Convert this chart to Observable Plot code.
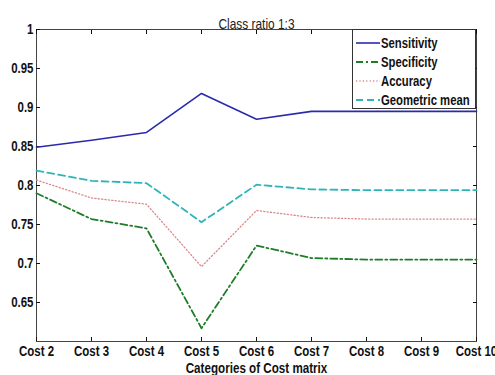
<!DOCTYPE html>
<html>
<head>
<meta charset="utf-8">
<script src="https://cdn.jsdelivr.net/npm/d3@7"></script>
<script src="https://cdn.jsdelivr.net/npm/@observablehq/plot@0.6"></script>
<style>
  html, body { margin: 0; padding: 0; background: #fff; }
  #chart { position: relative; width: 495px; height: 375px; font-family: "Liberation Sans", Arial, sans-serif; }
  #legend { position: absolute; left: 352px; top: 29px; width: 124px; height: 80px; border: 1px solid #333; background: #fff; box-sizing: border-box; font-weight: bold; font-size: 14.5px; color: #111; }
  .row { position: absolute; left: 3px; height: 19px; display: flex; align-items: center; white-space: nowrap; }
  .row svg { width: 24px; height: 10px; margin-right: 1px; flex: none; }
  .row span { display: inline-block; transform: scaleX(0.78); transform-origin: left center; }
</style>
</head>
<body>
<div id="chart"></div>
<script>
const title = "Class ratio 1:3";
const xLabel = "Categories of Cost matrix";
const categories = ["Cost 2", "Cost 3", "Cost 4", "Cost 5", "Cost 6", "Cost 7", "Cost 8", "Cost 9", "Cost 10"];
const sensitivity = [0.849, 0.858, 0.868, 0.918, 0.885, 0.895, 0.895, 0.895, 0.895];
const specificity = [0.790, 0.757, 0.745, 0.617, 0.723, 0.707, 0.705, 0.705, 0.705];
const accuracy    = [0.807, 0.784, 0.776, 0.696, 0.768, 0.759, 0.757, 0.757, 0.757];
const geomMean    = [0.819, 0.806, 0.803, 0.753, 0.801, 0.795, 0.794, 0.794, 0.794];
const seriesNames = ["Sensitivity", "Specificity", "Accuracy", "Geometric mean"];
const yTicks = [0.65, 0.7, 0.75, 0.8, 0.85, 0.9, 0.95, 1];
const yTickLabels = ["0.65", "0.7", "0.75", "0.8", "0.85", "0.9", "0.95", "1"];

const seriesValues = [sensitivity, specificity, accuracy, geomMean];
const styles = [
  {stroke: "#2a2aae", strokeWidth: 1.6, strokeDasharray: null},
  {stroke: "#1f7d2a", strokeWidth: 1.8, strokeDasharray: "7,3,2,3"},
  {stroke: "#d88a8a", strokeWidth: 1.3, strokeDasharray: "1.2,2.2"},
  {stroke: "#2fb5b8", strokeWidth: 1.8, strokeDasharray: "7,4"}
];

const rows = seriesNames.map((name, i) => categories.map((c, j) => ({cat: c, series: name, value: seriesValues[i][j]})));

const chart = Plot.plot({
  width: 495,
  height: 375,
  marginLeft: 36,
  marginRight: 19,
  marginTop: 29,
  marginBottom: 34,
  style: {fontFamily: '"Liberation Sans", Arial, sans-serif', fontSize: "14px", fontWeight: "bold", color: "#111", overflow: "visible"},
  x: {type: "point", domain: categories, padding: 0},
  y: {domain: [0.6, 1]},
  marks: [
    Plot.frame({stroke: "#444", strokeWidth: 1}),
    Plot.axisX({anchor: "bottom", ticks: categories, tickSize: -4, tickPadding: 9, label: null}),
    Plot.axisX({anchor: "top", ticks: categories, tickSize: -4, tickFormat: () => "", label: null}),
    Plot.axisY({anchor: "left", ticks: yTicks, tickSize: -4, tickPadding: 7, tickFormat: (d) => yTickLabels[yTicks.indexOf(d)], label: null}),
    Plot.axisY({anchor: "right", ticks: yTicks, tickSize: -4, tickFormat: () => "", label: null}),
    ...rows.map((data, i) => Plot.line(data, {x: "cat", y: "value", ...styles[i]})),
    Plot.text([title], {frameAnchor: "top", dy: -11, fontWeight: "normal", fontSize: 14.5, fill: "#222"}),
    Plot.text([xLabel], {frameAnchor: "bottom", dy: 31, lineAnchor: "bottom", fontSize: 14.2, fill: "#111"})
  ]
});
const container = document.getElementById("chart");
container.appendChild(chart);

// condense glyphs to mimic a narrow typeface
chart.querySelectorAll("text").forEach((t) => {
  const targets = t.querySelectorAll("tspan").length ? t.querySelectorAll("tspan") : [t];
  targets.forEach((el) => {
    const len = el.getComputedTextLength();
    if (len > 0) {
      el.setAttribute("textLength", (len * 0.82).toFixed(2));
      el.setAttribute("lengthAdjust", "spacingAndGlyphs");
    }
  });
});

// legend
const legend = document.createElement("div");
legend.id = "legend";
seriesNames.forEach((name, i) => {
  const row = document.createElement("div");
  row.className = "row";
  row.style.top = (3 + i * 19.2) + "px";
  const s = styles[i];
  row.innerHTML = `<svg viewBox="0 0 24 10"><line x1="0" y1="5" x2="24" y2="5" stroke="${s.stroke}" stroke-width="${s.strokeWidth}" ${s.strokeDasharray ? `stroke-dasharray="${s.strokeDasharray}"` : ""}/></svg><span>${name}</span>`;
  legend.appendChild(row);
});
container.appendChild(legend);
</script>
</body>
</html>
